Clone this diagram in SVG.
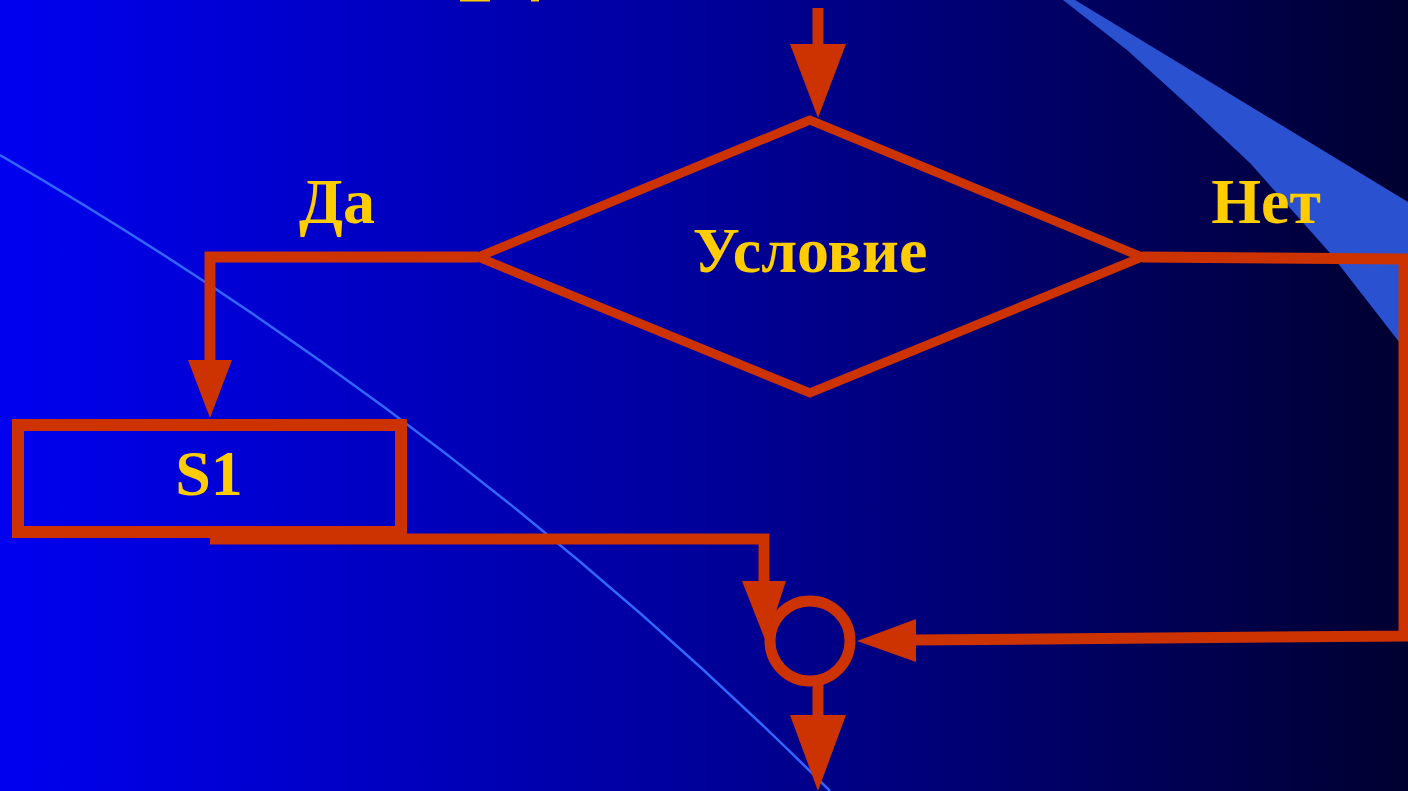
<svg xmlns="http://www.w3.org/2000/svg" width="1408" height="791" viewBox="0 0 1408 791">
<defs>
<linearGradient id="bg" x1="0" y1="0" x2="1" y2="0">
<stop offset="0" stop-color="#0000F0"/>
<stop offset="0.5" stop-color="#00009A"/>
<stop offset="1" stop-color="#000030"/>
</linearGradient>
<style>
.ln{fill:none;stroke:#CC3300;stroke-width:11;stroke-linejoin:miter;stroke-linecap:butt}
.ah{fill:#CC3300}
.t{font-family:"Liberation Serif","Times New Roman",serif;font-weight:bold;font-size:64px;fill:#FFCC00;text-anchor:middle}
</style>
</defs>
<rect width="1408" height="791" fill="url(#bg)"/>
<path d="M0,155 Q462,423 830,791" fill="none" stroke="#3366FF" stroke-width="2.5"/>
<polygon points="1063,0 1075,0 1408,202 1408,352 1403,347 1330,253 1250,163 1190,107 1127,50" fill="#2A52D0"/>
<rect x="460" y="0" width="30" height="1.5" fill="#FFCC00"/>
<rect x="531" y="0" width="8" height="1.5" fill="#FFCC00"/>
<g id="connectors">
<path class="ln" d="M818,8 V46"/>
<polygon class="ah" points="790,44 846,44 818,118"/>
<path class="ln" d="M478,257 H210 V362"/>
<polygon class="ah" points="188,360 232,360 210,418"/>
<path class="ln" d="M210,539 H764 V584"/>
<polygon class="ah" points="742,581 786,581 766,642"/>
<path class="ln" d="M1142,257 L1404,259 V636 L912,640"/>
<polygon class="ah" points="916,619 916,662 857,641"/>
<path class="ln" d="M818,684 V717"/>
<polygon class="ah" points="790,715 846,715 818,791"/>
</g>
<g id="cond">
<polygon points="810,120 478,257 810,393 1142,257" fill="none" stroke="#CC3300" stroke-width="9" stroke-linejoin="miter"/>
<text class="t" x="810" y="272">Условие</text>
</g>
<g id="s1">
<rect x="18" y="425" width="383" height="107" fill="none" stroke="#CC3300" stroke-width="12"/>
<text class="t" x="209" y="495">S1</text>
</g>
<g id="join">
<circle cx="810" cy="641" r="40" fill="none" stroke="#CC3300" stroke-width="11"/>
</g>
<g id="labels">
<text class="t" x="337" y="223">Да</text>
<text class="t" x="1266" y="223">Нет</text>
</g>
</svg>
